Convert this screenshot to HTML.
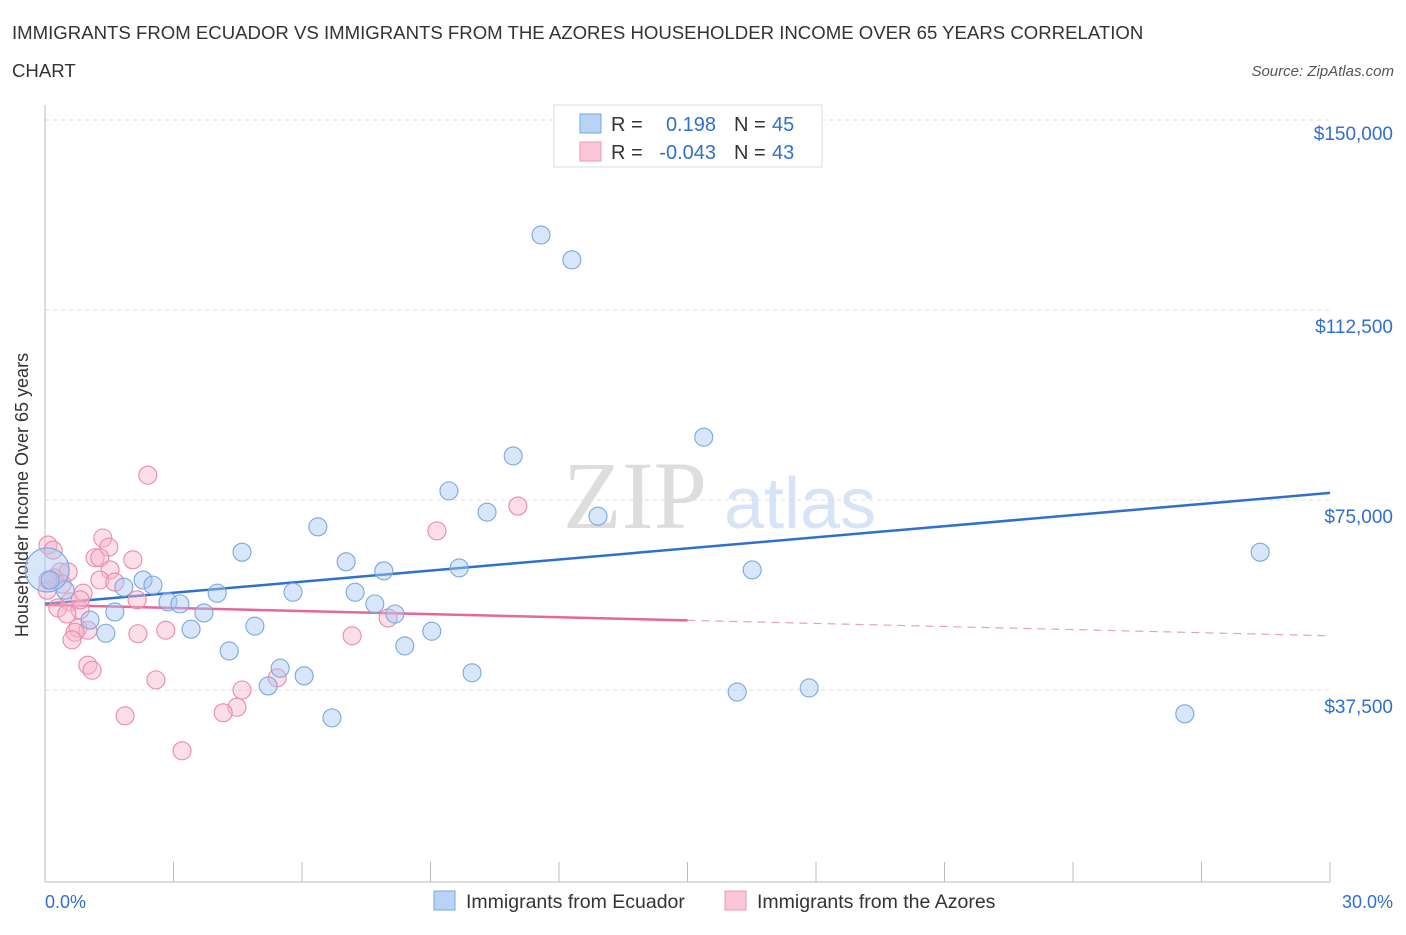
<!DOCTYPE html>
<html><head><meta charset="utf-8"><style>
body{margin:0;background:#fff;font-family:"Liberation Sans",sans-serif;}
svg text{font-family:"Liberation Sans",sans-serif;}
</style></head><body>
<svg id="chart" width="1406" height="930" xmlns="http://www.w3.org/2000/svg">
<text x="12" y="39" font-size="18.6" fill="#333">IMMIGRANTS FROM ECUADOR VS IMMIGRANTS FROM THE AZORES HOUSEHOLDER INCOME OVER 65 YEARS CORRELATION</text>
<text x="12" y="77" font-size="18.6" fill="#333">CHART</text>
<text x="1394" y="76" font-size="15" fill="#555" font-style="italic" text-anchor="end">Source: ZipAtlas.com</text>
<text x="28" y="495" font-size="18" fill="#333" text-anchor="middle" transform="rotate(-90 28 495)">Householder Income Over 65 years</text>
<text x="635" y="528" font-size="96" fill="#ddd" text-anchor="middle" style="font-family:'Liberation Serif',serif">ZIP</text>
<text x="800" y="528" font-size="72" fill="#d6e4f5" text-anchor="middle">atlas</text>
<g id="grid"></g><g id="axes"></g><g id="lines"></g><g id="pts"></g>
<g>
<rect x="554" y="105" width="268" height="62" fill="#fff" stroke="#ddd"/>
<rect x="580" y="114" width="21" height="19" fill="#b8d3f5" stroke="#7aa7e0"/>
<rect x="580" y="142" width="21" height="19" fill="#f9c6d6" stroke="#e89ab4"/>
<text x="611" y="131" font-size="20" fill="#333">R =</text><text x="716" y="131" font-size="20" fill="#2f6fd0" text-anchor="end">0.198</text>
<text x="734" y="131" font-size="20" fill="#333">N =</text><text x="772" y="131" font-size="20" fill="#2f6fd0">45</text>
<text x="611" y="159" font-size="20" fill="#333">R =</text><text x="716" y="159" font-size="20" fill="#2f6fd0" text-anchor="end">-0.043</text>
<text x="734" y="159" font-size="20" fill="#333">N =</text><text x="772" y="159" font-size="20" fill="#2f6fd0">43</text>
</g>
<g>
<rect x="434" y="891" width="21" height="19" fill="#b8d3f5" stroke="#7aa7e0"/>
<text x="466" y="908" font-size="19.5" fill="#333">Immigrants from Ecuador</text>
<rect x="725" y="891" width="21" height="19" fill="#f9c6d6" stroke="#e89ab4"/>
<text x="757" y="908" font-size="19.5" fill="#333">Immigrants from the Azores</text>
</g>
<text x="45" y="908" font-size="18" fill="#2f6fd0">0.0%</text>
<text x="1393" y="908" font-size="18" fill="#2f6fd0" text-anchor="end">30.0%</text>
</svg>
<script>
const yTicks=[37500,75000,112500,150000];
const yTickLabels=["$37,500","$75,000","$112,500","$150,000"];
const xTicks=[0,3,6,9,12,15,18,21,24,27,30];
const ecuX=[11.58,12.30,15.38,10.93,9.43,10.32,12.91,6.37,4.60,28.37,7.03,9.67,7.91,16.51,2.29,2.52,1.84,0.47,5.79,7.24,4.02,2.87,3.15,7.70,8.17,1.63,3.71,1.05,4.90,3.41,1.42,9.03,8.40,4.30,5.49,6.05,9.97,5.21,16.16,17.84,6.70,26.61,0.05,0.12,15.07];
const ecuY=[127300,122400,87400,83700,76800,72600,71800,69700,64700,64700,62800,61600,61000,61200,59200,58200,57800,57200,56800,56800,56600,54900,54500,54500,52500,52900,52700,51300,50100,49500,48700,49100,46200,45200,41800,40300,40900,38300,37100,37900,32000,32800,61200,59200,145000];
const ecuR=[9,9,9,9,9,9,9,9,9,9,9,9,9,9,9,9,9,9,9,9,9,9,9,9,9,9,9,9,9,9,9,9,9,9,9,9,9,9,9,9,9,9,22,9,9];
const azX=[2.40,11.04,9.15,1.35,0.07,0.19,1.49,1.17,1.28,2.05,0.35,0.54,1.52,1.28,1.63,0.21,0.40,0.89,0.05,2.15,0.58,0.30,0.82,0.51,8.01,0.77,1.00,2.82,0.70,2.17,0.63,7.17,1.00,1.10,2.59,4.60,5.42,4.48,4.16,1.87,3.20,0.82,0.07];
const azY=[79900,73800,68900,67500,66100,65100,65700,63600,63600,63200,60800,60800,61200,59200,58800,59600,58400,56600,57200,55300,54900,53700,53300,52500,51700,49700,49300,49300,48900,48600,47400,48200,42400,41400,39500,37500,39900,34100,33000,32400,25500,55300,59200];
const ecuTrend=[54500,76400];
const azTrend=[54300,48200];
const X=v=>45+v/30*1285;
const Y=v=>500-(v-75000)/37500*190;
const NS="http://www.w3.org/2000/svg";
function mk(tag,attrs,parent){const e=document.createElementNS(NS,tag);for(const k in attrs)e.setAttribute(k,attrs[k]);document.getElementById(parent).appendChild(e);return e;}
yTicks.forEach((t,i)=>{
 const l=mk('line',{x1:45,x2:1330,y1:Y(t),y2:Y(t),stroke:'#ddd','stroke-dasharray':'4,4'},'grid');
 
 
 const tx=mk('text',{x:1393,y:Y(t)+(i===3?20:23),'font-size':19,fill:'#2f6fd0','text-anchor':'end'},'grid');
 tx.textContent=yTickLabels[i];
 
 
});
const ya=mk('line',{x1:45,x2:45,y1:105,y2:882,stroke:'#bbb'},'axes');


const xa=mk('line',{x1:45,x2:1330,y1:882,y2:882,stroke:'#bbb'},'axes');


xTicks.forEach(t=>{
 const l=mk('line',{x1:X(t),x2:X(t),y1:862,y2:882,stroke:'#bbb'},'axes');
 
 
});
function dots(xs,ys,fill,stroke,name,rs){
 xs.forEach((x,i)=>{
  const c=mk('circle',{cx:X(x),cy:Y(ys[i]),r:rs?rs[i]:9,fill:fill,'fill-opacity':0.45,stroke:stroke,'stroke-width':1.1},'pts');
  
  
 });
}
dots(azX,azY,'#f7b6ca','#e98aab','azores-point');
dots(ecuX,ecuY,'#a9c8f2','#7aa7e0','ecuador-point',ecuR);
const bl=mk('line',{x1:X(0),x2:X(30),y1:Y(ecuTrend[0]),y2:Y(ecuTrend[1]),stroke:'#2f6fd0','stroke-width':2.5},'lines');


const azMid=azTrend[0]+(azTrend[1]-azTrend[0])/2;
const pl=mk('line',{x1:X(0),x2:X(15),y1:Y(azTrend[0]),y2:Y(azMid),stroke:'#e8679a','stroke-width':2.5},'lines');


const pd=mk('line',{x1:X(15),x2:X(30),y1:Y(azMid),y2:Y(azTrend[1]),stroke:'#e8a0b8','stroke-width':1.2,'stroke-dasharray':'8,6'},'lines');


</script>
</body></html>
